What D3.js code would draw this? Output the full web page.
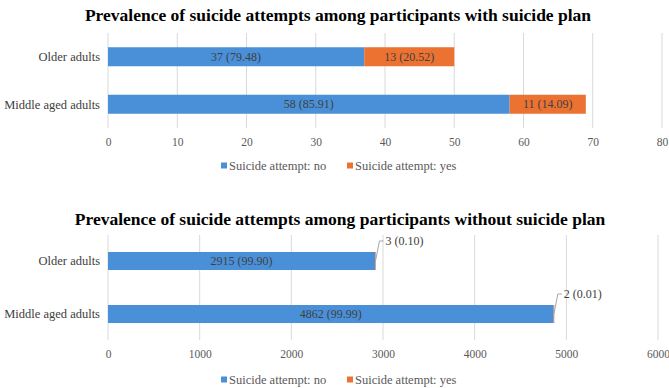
<!DOCTYPE html>
<html>
<head>
<meta charset="utf-8">
<script src="https://cdn.jsdelivr.net/npm/d3@7/dist/d3.min.js"></script>
<style>
  html, body { margin: 0; padding: 0; background: #fff; }
  svg { display: block; }
  svg text { font-family: "Liberation Serif", "Times New Roman", serif !important; }
</style>
</head>
<body>
<svg id="chart" width="669" height="388"></svg>
<script>
// ---- data ----
const categories = ["Older adults", "Middle aged adults"];
const seriesNames = ["Suicide attempt: no", "Suicide attempt: yes"];
const titles = [
  "Prevalence of suicide attempts among participants with suicide plan",
  "Prevalence of suicide attempts among participants without suicide plan"
];
// with suicide plan
const planNo = [37, 58];
const planNoPct = [79.48, 85.91];
const planYes = [13, 11];
const planYesPct = [20.52, 14.09];
// without suicide plan
const noPlanNo = [2915, 4862];
const noPlanNoPct = [99.90, 99.99];
const noPlanYes = [3, 2];
const noPlanYesPct = [0.10, 0.01];
// tick labels
const ticks1 = [0, 10, 20, 30, 40, 50, 60, 70, 80];
const ticks2 = [0, 1000, 2000, 3000, 4000, 5000, 6000];

const colors = ["#4a90d9", "#ec7232"];
const FONT = "Liberation Serif, Times New Roman, serif";
const svg = d3.select("#chart").attr("font-family", FONT);

function drawChart(cfg) {
  const g = svg.append("g");
  const x = d3.scaleLinear().domain([0, d3.max(cfg.ticks)]).range([108, cfg.xEnd]);
  const y = d3.scaleBand().domain(categories).range(cfg.yRange)
    .paddingInner(cfg.pi).paddingOuter(cfg.po);

  // title
  g.append("text").attr("x", cfg.titleX).attr("y", cfg.titleY)
    .attr("text-anchor", "middle").attr("font-weight", "bold")
    .attr("font-family", FONT)
    .attr("font-size", 17.5).attr("fill", "#000").text(cfg.title);

  // gridlines
  g.selectAll("line.grid").data(cfg.ticks).join("line")
    .attr("class", "grid")
    .attr("x1", d => x(d)).attr("x2", d => x(d))
    .attr("y1", cfg.yRange[0]).attr("y2", cfg.yRange[1])
    .attr("stroke", "#d9d9d9").attr("stroke-width", 1);

  // x axis labels
  const ax = g.append("g").attr("transform", `translate(0,${cfg.yRange[1]})`)
    .call(d3.axisBottom(x).tickValues(cfg.ticks).tickSize(0).tickPadding(cfg.tickPad).tickFormat(d3.format("d")));
  ax.attr("font-family", FONT);
  ax.select(".domain").remove();
  ax.selectAll("text").attr("font-family", FONT)
    .attr("font-size", 11.5).attr("fill", "#595959");

  // category labels
  g.selectAll("text.cat").data(categories).join("text")
    .attr("class", "cat").attr("font-family", FONT)
    .attr("x", 100).attr("y", d => y(d) + y.bandwidth() / 2)
    .attr("dy", "0.35em").attr("text-anchor", "end")
    .attr("font-size", 12.5).attr("fill", "#404040").text(d => d);

  const rows = categories.map((c, i) => ({
    cat: c, no: cfg.no[i], noPct: cfg.noPct[i], yes: cfg.yes[i], yesPct: cfg.yesPct[i]
  }));

  // bars
  g.selectAll("rect.no").data(rows).join("rect")
    .attr("class", "no")
    .attr("x", x(0)).attr("y", d => y(d.cat))
    .attr("width", d => x(d.no) - x(0)).attr("height", y.bandwidth())
    .attr("fill", colors[0]);
  g.selectAll("rect.yes").data(rows).join("rect")
    .attr("class", "yes")
    .attr("x", d => x(d.no)).attr("y", d => y(d.cat))
    .attr("width", d => Math.max(x(d.no + d.yes) - x(d.no), 0.6)).attr("height", y.bandwidth())
    .attr("fill", colors[1]);

  // labels inside "no"
  g.selectAll("text.nolab").data(rows).join("text")
    .attr("class", "nolab").attr("font-family", FONT)
    .attr("x", d => (x(0) + x(d.no)) / 2).attr("y", d => y(d.cat) + y.bandwidth() / 2)
    .attr("dy", "0.35em").attr("text-anchor", "middle")
    .attr("font-size", 12).attr("fill", "#404040")
    .text(d => `${d.no} (${d.noPct.toFixed(2)})`);

  if (!cfg.callout) {
    g.selectAll("text.yeslab").data(rows).join("text")
      .attr("class", "yeslab").attr("font-family", FONT)
      .attr("x", d => (x(d.no) + x(d.no + d.yes)) / 2).attr("y", d => y(d.cat) + y.bandwidth() / 2)
      .attr("dy", "0.35em").attr("text-anchor", "middle")
      .attr("font-size", 12).attr("fill", "#404040")
      .text(d => `${d.yes} (${d.yesPct.toFixed(2)})`);
  } else {
    const ly = d => y(d.cat) - 11;
    const ex = d => x(d.no + d.yes);
    g.selectAll("path.lead").data(rows).join("path")
      .attr("class", "lead")
      .attr("d", d => `M${ex(d)},${y(d.cat) + y.bandwidth() / 2}L${ex(d) + 4},${ly(d)}L${ex(d) + 8},${ly(d)}`)
      .attr("fill", "none").attr("stroke", "#a6a6a6").attr("stroke-width", 1);
    g.selectAll("text.yeslab").data(rows).join("text")
      .attr("class", "yeslab").attr("font-family", FONT)
      .attr("x", d => ex(d) + 10).attr("y", d => ly(d))
      .attr("dy", "0.35em").attr("text-anchor", "start")
      .attr("font-size", 12).attr("fill", "#404040")
      .text(d => `${d.yes} (${d.yesPct.toFixed(2)})`);
  }

  // legend
  const lg = g.append("g").attr("transform", `translate(0,${cfg.legendY})`);
  const items = [{ n: seriesNames[0], c: colors[0], x: 221 }, { n: seriesNames[1], c: colors[1], x: 347 }];
  items.forEach(it => {
    lg.append("rect").attr("x", it.x).attr("y", -3.5).attr("width", 6).attr("height", 6).attr("fill", it.c);
    lg.append("text").attr("x", it.x + 8).attr("y", 0).attr("dy", "0.35em")
      .attr("font-family", FONT)
      .attr("font-size", 12.5).attr("fill", "#595959").text(it.n);
  });
}

drawChart({
  title: titles[0], titleX: 338, titleY: 21, ticks: ticks1, xEnd: 662,
  yRange: [33, 128], pi: 0.6, po: 0.3, tickPad: 10,
  no: planNo, noPct: planNoPct, yes: planYes, yesPct: planYesPct,
  callout: false, legendY: 166
});
drawChart({
  title: titles[1], titleX: 340, titleY: 225, ticks: ticks2, xEnd: 658,
  yRange: [235, 340], pi: 0.66, po: 0.32, tickPad: 10,
  no: noPlanNo, noPct: noPlanNoPct, yes: noPlanYes, yesPct: noPlanYesPct,
  callout: true, legendY: 380
});
</script>
</body>
</html>
